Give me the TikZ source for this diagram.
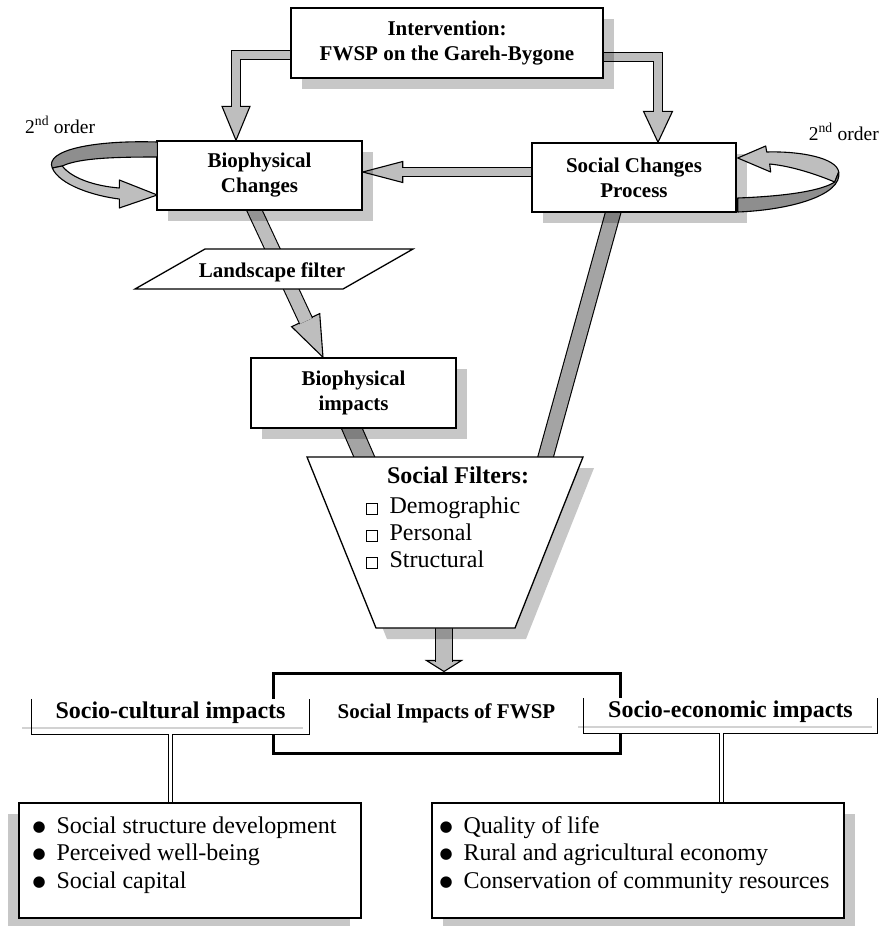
\documentclass[tikz,border=0pt]{standalone}
\usepackage{fontspec}
\setmainfont{Liberation Serif}
\newfontfamily\symfont{DejaVu Sans}
\usetikzlibrary{calc,shadows,backgrounds}
\definecolor{bandgray}{HTML}{BEBEBE}
\definecolor{bandmid}{HTML}{A4A4A4}
\definecolor{loopdark}{HTML}{8E8E8E}
\newcommand\titlefont{\fontsize{21}{25}\selectfont\bfseries}
\newcommand\headfont{\fontsize{24}{27}\selectfont\bfseries}
\newcommand\itemfont{\fontsize{24}{27.5}\selectfont}
\newcommand\ordfont{\fontsize{19.5}{24}\selectfont}
\newcommand\chk{{\setlength\fboxsep{0pt}\setlength\fboxrule{0.7pt}\fbox{\rule{0pt}{10pt}\hspace{10pt}}}\hspace{12pt}}
\newcommand\blt{\makebox[24pt][l]{\raisebox{2pt}{\symfont\fontsize{15}{15}\selectfont ●}}}
% block arrow head (tip, angle back to the tail, half width, length)
\newcommand\blockhead[4]{\draw[line width=1.1pt,fill=bandgray]
  (#1) -- ($(#1)+(#2:#4)+({#2+90}:#3)$) -- ($(#1)+(#2:#4)+({#2-90}:#3)$) -- cycle;}

\begin{document}
\begin{tikzpicture}[x=1pt,y=-1pt,
  box/.style={draw,line width=1.4pt,fill=white,align=center,inner sep=0pt,font=\titlefont,
    drop shadow={shadow xshift=11pt,shadow yshift=-11pt,fill=black,opacity=.22}},
  shaft/.style={draw,line width=1.1pt,double=bandgray,double distance=#1},
  header/.style={fill=white,inner sep=0pt,font=\headfont,minimum height=35pt,
    text height=16pt,text depth=13pt},
  link/.style={draw,line width=1pt,double=white,double distance=3pt},
  listbox/.style={draw,line width=1.4pt,fill=white,inner sep=0pt,minimum height=115pt},
  listtext/.style={font=\itemfont,align=left,anchor=north west,inner sep=0pt}]
  \useasboundingbox (0,0) rectangle (882,926);
  \def\sh{11pt}

  \node[box,minimum width=312pt,minimum height=70pt] (interv) at (447,43)
    {Intervention:\\FWSP on the Gareh-Bygone};
  \node[box,minimum width=205pt,minimum height=69pt] (biochg) at (259.5,175.5)
    {Biophysical\\Changes};
  \node[box,minimum width=204pt,minimum height=69pt] (socchg) at (634,177.5)
    {Social Changes\\Process};
  \node[box,minimum width=205pt,minimum height=70pt] (bioimp) at (353.5,393)
    {Biophysical\\impacts};

  % landscape filter
  \coordinate (lf) at (274,269);
  \draw[line width=1.3pt,fill=white] ([shift={(-69,-20)}]lf) -- ([shift={(139,-20)}]lf)
    -- ([shift={(69,20)}]lf) -- ([shift={(-139,20)}]lf) -- cycle;
  \node[font=\titlefont,anchor=base] (lfilter) at ([shift={(-2,8)}]lf) {Landscape filter};

  % social filters
  \coordinate (sf) at (445,457);
  \draw[line width=1.3pt,fill=white,
    drop shadow={shadow xshift=\sh,shadow yshift=-\sh,fill=black,opacity=.22}]
    (sf) ++(-138,0) -- ++(276,0) -- ++(-68,171) -- ++(-139,0) -- cycle;
  \node[font=\headfont,anchor=base] (filttitle) at ([shift={(13,26)}]sf) {Social Filters:};
  \node[listtext,font=\fontsize{24}{27}\selectfont] (filtlist) at ([shift={(-79,40)}]sf)
    {\chk Demographic\\\chk Personal\\\chk Structural};

  \node[draw,line width=3pt,fill=white,minimum width=347pt,minimum height=80pt,
    inner sep=0pt,font=\titlefont] (socimp) at (446.5,713) {Social Impacts of FWSP};

  % the two headers
  \node[header,minimum width=277pt] (socult) at (170.5,716.5) {Socio-cultural impacts};
  \draw[line width=2pt,gray!35] ([shift={(-148.5,11.5)}]socult.center)
    -- ([shift={(132.5,11.5)}]socult.center);
  \draw[line width=1.3pt] (socult.north west) |- (socult.south east) -- (socult.north east);
  \node[header,minimum width=293pt] (soceco) at (730.5,715.5) {Socio-economic impacts};
  \draw[line width=2pt,gray!35] ([shift={(-152.5,11.5)}]soceco.center)
    -- ([shift={(141.5,11.5)}]soceco.center);
  \draw[line width=1.3pt] (soceco.north west) |- (soceco.south east) -- (soceco.north east);

  % lists
  \node[listbox,minimum width=342pt,
    drop shadow={shadow xshift=-\sh,shadow yshift=-\sh,fill=black,opacity=.22}]
    (scbox) at (190,860.5) {};
  \node[listtext] (sclist) at ([shift={(14,14)}]scbox.north west)
    {\blt Social structure development\\\blt Perceived well-being\\\blt Social capital};
  \node[listbox,minimum width=412pt,
    drop shadow={shadow xshift=\sh,shadow yshift=-\sh,fill=black,opacity=.22}]
    (sebox) at (638,860.5) {};
  \node[listtext] (selist) at ([shift={(8,14)}]sebox.north west)
    {\blt Quality of life\\\blt Rural and agricultural economy\\\blt Conservation of community resources};

  \coordinate (sejoin) at ([xshift=-9pt]soceco.south);
  \draw[link] (socult.south) -- (socult.south |- scbox.north);
  \draw[link] (sejoin) -- (sejoin |- sebox.north);

  % 2nd order loops
  \node[font=\ordfont,anchor=base west,inner sep=0pt] (ordl) at (25,133) {2\textsuperscript{nd} order};
  \node[font=\ordfont,anchor=base east,inner sep=0pt] (ordr) at (879,140) {2\textsuperscript{nd} order};
  \begin{scope}[shift={(biochg.west)},line width=1.1pt,line join=round]
    \draw[fill=loopdark] (1,-33.5) .. controls (-62,-35.5) and (-112,-25.5) .. (-104,-7.5)
      -- (-94,-9.5) .. controls (-77,-17.5) and (-42,-18.5) .. (1,-18.5) -- cycle;
    \draw[fill=bandgray] (-104,-7.5) .. controls (-97,9.5) and (-62,20.5) .. (-37,23.5)
      -- (-37,32.5) -- (1,19.5) -- (-37,4.5) -- (-37,12.5)
      .. controls (-62,10.5) and (-85,2.5) .. (-94,-9.5) -- cycle;
  \end{scope}
  \begin{scope}[shift={(socchg.east)},line width=1.1pt,line join=round]
    \draw[fill=bandgray] (1,-19.5) -- (29,-31.5) -- (30,-25.5)
      .. controls (64,-26.5) and (100,-19.5) .. (102,-5.5) -- (98,4.5)
      .. controls (79,-3.5) and (54,-11.5) .. (33,-13.5) -- (34,-5.5) -- cycle;
    \draw[fill=loopdark] (102,-5.5) .. controls (106,17.5) and (54,32.5) .. (1,34.5)
      -- (1,20.5) .. controls (54,18.5) and (86,12.5) .. (98,4.5) -- cycle;
  \end{scope}

  % block arrows, behind the boxes
  \coordinate (t1) at ([xshift=-23.5pt]biochg.north);
  \coordinate (t2) at ([xshift=24pt]socchg.north);
  \coordinate (t3) at ([shift={(0,-3.5)}]biochg.east);
  \coordinate (t4) at ([xshift=-30.5pt]bioimp.north);
  \coordinate (t7) at ([xshift=-2.5pt]socimp.north);
  \begin{scope}[on background layer]
    \draw[shaft=18pt,double=bandmid] ([shift={(-14,7)}]bioimp.center)
      -- ([shift={(-88,-13)}]filttitle.base);
    \draw[shaft=14pt,double=bandmid] ([shift={(-16,17.5)}]socchg.center)
      -- ([shift={(84,-13)}]filttitle.base);
    \blockhead{t1}{270}{14}{34}
    \draw[shaft=8pt] ([shift={(10,12)}]interv.west) -| ($(t1)+(0,-33)$);
    \blockhead{t2}{270}{14.5}{31}
    \draw[shaft=8pt] ([shift={(-10,14)}]interv.east) -| ($(t2)+(0,-30)$);
    \blockhead{t3}{0}{10.5}{40}
    \draw[shaft=8pt] ([shift={(10,-5.5)}]socchg.west) -- ($(t3)+(39,0)$);
    \blockhead{t4}{245}{15.5}{41}
    \draw[shaft=13pt] ([shift={(-12,20)}]biochg.center) -- ($(t4)+(245:40)$);
    \blockhead{t7}{270}{17.5}{11}
    \draw[shaft=16pt] ([shift={(0,-58)}]t7) -- ($(t7)+(0,-10)$);
  \end{scope}
\end{tikzpicture}
\end{document}
